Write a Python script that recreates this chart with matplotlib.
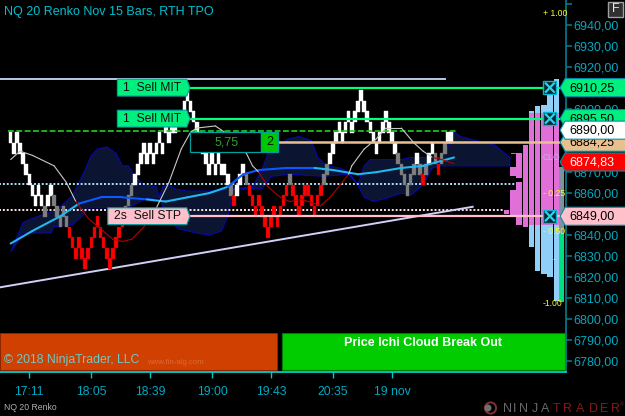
"""NQ 20 Renko chart with Ichimoku cloud, TPO profile and order flags."""
import numpy as np
import matplotlib
matplotlib.use("Agg")
import matplotlib.pyplot as plt
from matplotlib.collections import LineCollection
from matplotlib.patches import Circle, Polygon, Rectangle
from matplotlib.transforms import IdentityTransform

plt.rcParams["font.family"] = ["Liberation Sans", "DejaVu Sans"]

# renko bricks, one per bar: top price and colour code
brick_tops = [
    6889, 6884, 6889, 6884, 6879, 6874, 6869, 6864, 6859, 6864, 6859, 6854, 6859, 6864, 6859,
    6854, 6849, 6854, 6849, 6844, 6839, 6834, 6839, 6834, 6829, 6834, 6839, 6844, 6849, 6844,
    6839, 6834, 6829, 6834, 6839, 6844, 6849, 6854, 6859, 6864, 6869, 6874, 6879, 6884, 6879,
    6884, 6879, 6884, 6889, 6884, 6894, 6889, 6894, 6894, 6899, 6899, 6904, 6909, 6904, 6899,
    6894, 6889, 6884, 6879, 6874, 6879, 6874, 6879, 6874, 6874, 6869, 6864, 6859, 6864, 6869,
    6874, 6869, 6864, 6859, 6854, 6859, 6854, 6849, 6844, 6849, 6854, 6849, 6854, 6859, 6864,
    6869, 6864, 6859, 6854, 6859, 6864, 6864, 6859, 6854, 6859, 6864, 6869, 6874, 6879, 6884,
    6889, 6894, 6889, 6894, 6899, 6894, 6899, 6904, 6909, 6904, 6899, 6894, 6889, 6884, 6889,
    6894, 6899, 6894, 6889, 6884, 6879, 6874, 6869, 6864, 6869, 6874, 6879, 6874, 6869, 6874,
    6879, 6884, 6879, 6874, 6879, 6884, 6889, 6889,
]
brick_kinds = ("w" * 11 + "g" + "ww" + "g" * 5 + "r" * 18 + "ggg" + "w" * 31 + "g" + "r" + "www"
               + "g" + "r" * 13 + "g" + "r" * 10 + "gg" + "w" * 22 + "g" * 6 + "wgrgwwgrggww")
BRICK_HEIGHT = 5.2
BRICK_COLORS = {"w": "#ffffff", "g": "#808080", "r": "#ff0000"}
BRICK_EDGES = {"w": "#ffffff", "g": "#707070", "r": "#a80000"}

# ichimoku cloud edges
cloud_top_x = [0, 2, 4, 7, 15, 20, 22, 24, 26, 28, 31, 34, 36, 38, 40, 43, 47, 48, 49, 51, 53, 57, 64, 72,
               78, 81, 83, 86, 90, 93, 97, 99, 102, 106, 109, 112, 114, 116, 126, 129, 139, 141, 143,
               145, 150, 156, 161]
cloud_top = [6832, 6839, 6846, 6848, 6852, 6859, 6865, 6871, 6878, 6881, 6882, 6879, 6873, 6873, 6868,
             6864, 6863, 6858, 6863, 6864, 6862, 6861, 6861, 6862, 6863, 6871, 6879, 6883, 6886, 6887,
             6885, 6877, 6873, 6872, 6870, 6864, 6873, 6876, 6876, 6877, 6877, 6882, 6889, 6887, 6885,
             6883, 6877]
cloud_bot_x = [0, 4, 13, 14, 20, 23, 25, 29, 38, 43, 48, 50, 54, 60, 64, 68, 70, 71, 72, 81, 84, 90, 101,
               109, 112, 114, 117, 122, 126, 129, 133, 136, 139, 161]
cloud_bot = [6832, 6841, 6841, 6844, 6845, 6849, 6853, 6853, 6853, 6857, 6858, 6849, 6843, 6841, 6840,
             6842, 6849, 6856, 6862, 6862, 6868, 6869, 6868, 6869, 6864, 6858, 6856, 6858, 6860, 6859,
             6864, 6872, 6873, 6873]

# fast average, two tone
fast_x = [0, 7, 16, 22, 29, 36, 44, 50, 57, 64, 70, 75, 80, 89, 98, 104, 112, 118, 126, 133, 143]
fast_y = [6836, 6842, 6849, 6855, 6858, 6858, 6857, 6856, 6858, 6860, 6863, 6869, 6871, 6872, 6872,
          6871, 6869, 6870, 6872, 6873, 6877]
fast_tone = "cccbbbccccbbbbcccccc"

# slow average, thin
thin_x = [0, 3, 7, 14, 18, 21, 25, 29, 33, 36, 39, 43, 47, 51, 55, 58, 60, 66, 69, 76, 78, 80, 83, 87,
          90, 94, 100, 103, 109, 110, 114, 118, 121, 126, 130, 133, 136, 139, 143]
thin_y = [6876, 6880, 6878, 6873, 6865, 6856, 6848, 6843, 6838, 6837, 6838, 6844, 6853, 6865, 6881,
          6889, 6891, 6892, 6889, 6879, 6873, 6870, 6863, 6858, 6856, 6857, 6854, 6858, 6869, 6873,
          6881, 6886, 6891, 6891, 6884, 6880, 6877, 6876, 6874]
thin_tone = "w" * 5 + "r" * 7 + "w" * 9 + "r" * 7 + "w" * 8 + "rr"

trend_x = [-4, 149]
trend_y = [6815, 6853.5]
resistance_price = 6914.4
resistance_end = 140
green_dash_price = 6889.7
dotted_cyan_price = 6864.4
dotted_pink_price = 6852

# tpo profile columns
profile_x = [160, 162, 164, 166, 168, 170, 172, 174, 176]
profile_pieces = [
    [(6850, 6852)],
    [(6849.7, 6861.6), (6868, 6872.5)],
    [(6845, 6865.5), (6867, 6879)],
    [(6844, 6883)],
    [(6845, 6898)],
    [(6845, 6898)],
    [(6845, 6898)],
    [(6845, 6898)],
    [(6845, 6898)],
]
profile_blue_x = [168, 170, 172, 174, 176]
profile_blue_low = [6834.5, 6823, 6821.6, 6820, 6808.5]
profile_blue_high = [6899, 6901.6, 6902, 6908, 6914.5]
last_col_x = 177.5
last_col_grey = (6841, 6872.5)
last_col_green = (6808, 6841)

# order and price flags
sell_mit_1 = 6910.25
sell_mit_2 = 6895.50
last_price = 6890.00
avg_price = 6884.25
close_price = 6874.83
sell_stp = 6849.00

price_ticks = np.arange(6780, 6951, 10)
hidden_price_labels = [6950, 6910, 6890, 6880, 6850]
time_ticks = [6, 26, 45, 65, 84, 104, 123]
time_labels = ["17:11", "18:05", "18:39", "19:00", "19:43", "20:35", "19 nov"]

TEAL = "#00a8c0"
MIT_GREEN = "#00ff80"
PINK = "#ffc0cb"
TAN = "#e8c090"

W, H = 625, 416


def colored_line(ax, xs, ys, tones, palette, lw, zorder):
    pts = np.column_stack([xs, ys])
    segs = np.stack([pts[:-1], pts[1:]], axis=1)
    lc = LineCollection(segs, colors=[palette[t] for t in tones], linewidths=lw, zorder=zorder)
    lc.set_capstyle("round")
    ax.add_collection(lc)


def right_flag(ax, price, face, text, text_color="black", zorder=9):
    """Price flag that sits over the axis, pointing left."""
    half = 4.3
    pts = [(177.2, price), (178.8, price + half), (198.6, price + half),
           (198.6, price - half), (178.8, price - half)]
    ax.add_patch(Polygon(pts, closed=True, fc=face, ec="#008fa8", lw=0.8, clip_on=False, zorder=zorder))
    ax.text(180.3, price - 0.2, text, color=text_color, fontsize=9, va="center", ha="left",
            clip_on=False, zorder=zorder)


def order_tag(ax, left, price, face, text):
    half = 4.0
    pts = [(left, price + half), (56.8, price + half), (57.8, price),
           (56.8, price - half), (left, price - half)]
    ax.add_patch(Polygon(pts, closed=True, fc=face, ec="#00a0a0", lw=0.8, zorder=7))
    ax.text(left + 1.9, price - 0.1, text, color="#101010", fontsize=8.7, va="center", ha="left", zorder=8)


def x_button(ax, price):
    ax.add_patch(Rectangle((171.8, price - 3.1), 4.2, 6.2, fc="#002830", ec="#00b8d0", lw=1.0, zorder=11,
                           clip_on=False))
    ax.plot([172.6, 175.2], [price - 2.0, price + 2.0], color="#30d0e8", lw=1.6, zorder=12)
    ax.plot([172.6, 175.2], [price + 2.0, price - 2.0], color="#30d0e8", lw=1.6, zorder=12)


def px_text(fig, x, y, s, **kw):
    fig.text(x / W, 1 - y / H, s, **kw)


fig = plt.figure(figsize=(W / 100, H / 100), dpi=100, facecolor="black")
ax = fig.add_axes([0, (H - 372) / H, 566 / W, 372 / H], facecolor="black")
ax.set_xlim(-3.45, 179.1)
ax.set_ylim(6774.8, 6952)

# cloud
cloud_pts = list(zip(cloud_top_x, cloud_top)) + list(zip(cloud_bot_x[::-1], cloud_bot[::-1]))
ax.add_patch(Polygon(cloud_pts, closed=True, fc="#0b1430", ec="#0808b0", lw=0.8, zorder=1))

# horizontal levels
ax.plot([-4, 163], [dotted_cyan_price] * 2, color="#a8e4ff", lw=1.4, ls=(0, (1, 1)), zorder=2)
ax.plot([-4, 159], [dotted_pink_price] * 2, color="#ffe4e8", lw=1.4, ls=(0, (1, 1)), zorder=2)
ax.plot([-4, resistance_end], [resistance_price] * 2, color="#b8c8e8", lw=1.4, zorder=2)
ax.plot(trend_x, trend_y, color="#d0d0f8", lw=1.4, zorder=3)

# profile
for x, pieces in zip(profile_x, profile_pieces):
    for low, high in pieces:
        ax.bar(x, high - low, bottom=low, width=1.75, color="#e070d8", zorder=3)
for x, low, high in zip(profile_blue_x, profile_blue_low, profile_blue_high):
    ax.bar(x, high - low, bottom=low, width=1.75, color="#90d0f8", zorder=2)
ax.bar(last_col_x, last_col_grey[1] - last_col_grey[0], bottom=last_col_grey[0], width=1.6,
       color="#8090a0", zorder=3)
ax.bar(last_col_x, last_col_green[1] - last_col_green[0], bottom=last_col_green[0], width=1.6,
       color="#00e080", zorder=3)

# renko bricks
bar_index = np.arange(len(brick_tops))
tops = np.array(brick_tops, dtype=float)
ax.bar(bar_index, BRICK_HEIGHT, bottom=tops - BRICK_HEIGHT, width=1.15,
       color=[BRICK_COLORS[k] for k in brick_kinds],
       edgecolor=[BRICK_EDGES[k] for k in brick_kinds], linewidth=0.3, zorder=4)

ax.plot([-1, 144], [green_dash_price] * 2, color="#20d020", lw=1.2, ls=(0, (3.5, 1.5)), zorder=5)

# averages
colored_line(ax, fast_x, fast_y, fast_tone, {"c": "#20b8f0", "b": "#0c58ff"}, 1.5, 5)
colored_line(ax, thin_x, thin_y, thin_tone, {"w": "#c8c8c8", "r": "#b00000"}, 0.8, 5)

# lines from the working orders
ax.plot([57, 179], [sell_mit_1] * 2, color=MIT_GREEN, lw=1.6, zorder=6)
ax.plot([57, 179], [sell_mit_2] * 2, color=MIT_GREEN, lw=1.6, zorder=6)
ax.plot([86, 179], [avg_price] * 2, color=TAN, lw=1.8, zorder=6)
ax.plot([57, 179], [sell_stp] * 2, color=PINK, lw=1.6, zorder=6)

order_tag(ax, 34.4, sell_mit_1, "#00f080", "1  Sell MIT")
order_tag(ax, 34.4, sell_mit_2, "#00f080", "1  Sell MIT")
order_tag(ax, 31.3, sell_stp, PINK, "2s  Sell STP")

# position box
ax.add_patch(Rectangle((57.8, avg_price - 4.7), 23, 9.4, fc="#000000", ec="#00a0a0", lw=0.9, zorder=7))
ax.add_patch(Rectangle((80.8, avg_price - 4.7), 5.4, 9.4, fc="#00c800", ec="#00a0a0", lw=0.9, zorder=7))
ax.text(69.5, avg_price - 0.1, "5,75", color="#30a030", fontsize=9, ha="center", va="center", zorder=8)
ax.text(83.5, avg_price - 0.1, "2", color="black", fontsize=9, ha="center", va="center", zorder=8)

# bottom panels
ax.add_patch(Rectangle((-3.45, 6775.7), 89.4, 17.8, fc="#d04000", ec="#902800", lw=0.6, zorder=2))
ax.add_patch(Rectangle((87.5, 6775.7), 91.2, 17.8, fc="#00cc00", ec="#007a00", lw=0.8, zorder=2))
ax.text(133, 6788.6, "Price Ichi Cloud Break Out", color="white", fontsize=9, fontweight="bold",
        ha="center", va="center", zorder=3)
ax.text(-2.2, 6780.5, "\u00a9 2018 NinjaTrader, LLC", color="#70c8c8", fontsize=8.8, ha="left", va="center", zorder=3)
ax.text(44, 6779.5, "www.fin-alg.com", color="#dc6a38", fontsize=5.6, ha="left", va="center", zorder=3)

# flags on the price axis, later ones on top
right_flag(ax, sell_stp, PINK, "6849,00", zorder=9)
right_flag(ax, sell_mit_2, "#00f080", "6895,50", zorder=9)
right_flag(ax, avg_price, TAN, "6884,25", zorder=9.2)
right_flag(ax, last_price, "white", "6890,00", zorder=9.4)
right_flag(ax, sell_mit_1, "#00f080", "6910,25", zorder=9.6)
right_flag(ax, close_price, "#ff0000", "6874,83", "white", zorder=9.8)

x_button(ax, sell_mit_1)
x_button(ax, sell_mit_2)
x_button(ax, sell_stp)

# axes
for side in ("left", "top"):
    ax.spines[side].set_visible(False)
ax.spines["right"].set_color("#008090")
ax.spines["right"].set_linewidth(1.2)
ax.spines["bottom"].set_color("#00e0e0")
ax.spines["bottom"].set_linewidth(1.2)
ax.yaxis.tick_right()
ax.set_yticks(price_ticks)
ax.set_yticklabels(["" if v in hidden_price_labels else f"{v:.2f}".replace(".", ",") for v in price_ticks])
ax.tick_params(axis="y", colors=TEAL, length=4.3, width=1.1, labelsize=9, pad=0.8, color="#008090")
ax.set_xticks(time_ticks)
ax.set_xticklabels(time_labels)
ax.tick_params(axis="x", colors=TEAL, length=4, width=1, labelsize=8.8, pad=6, color="#00c8c8")

# text around the plot
px_text(fig, 4, 12, "NQ 20 Renko Nov 15 Bars, RTH TPO", color="#00c0d0", fontsize=9, va="center")
px_text(fig, 4, 408, "NQ 20 Renko", color="#b0b0b0", fontsize=6.2, va="center")

yellow = "#ffff20"
px_text(fig, 543, 14, "+ 1.00", color=yellow, fontsize=6.2, va="center")
px_text(fig, 543, 194, "- 0.25", color=yellow, fontsize=6.2, va="center")
px_text(fig, 543, 231, "- 0.50", color=yellow, fontsize=6.2, va="center")
px_text(fig, 543, 303, "-1.00", color=yellow, fontsize=6.2, va="center")
px_text(fig, 553, 260, "-", color=yellow, fontsize=6.2, va="center")
px_text(fig, 511, 154, "\u2013", color=yellow, fontsize=6.2, va="center")
px_text(fig, 543, 157, "CLO", color="#c0b0e0", fontsize=6.2, va="center")

# F button
fig.add_artist(Rectangle((608, H - 17), 15, 15, fc="#303030", ec="#a0a0a0", lw=1, transform=IdentityTransform()))
px_text(fig, 615.5, 9.5, "F", color="#e8e8e8", fontsize=9, ha="center", va="center")

# logo
fig.add_artist(Circle((490.5, H - 408), 5.6, fc="none", ec="#803030", lw=1.4, transform=IdentityTransform()))
fig.add_artist(Circle((488, H - 408), 3.5, fc="#707070", ec="none", transform=IdentityTransform()))
logo_letters = "NINJATRADER"
logo_x = [507, 515, 524, 535, 545, 557, 568, 580, 593, 604, 615]
for i, (ch, lx) in enumerate(zip(logo_letters, logo_x)):
    px_text(fig, lx, 408.5, ch, color="#686868" if i < 5 else "#8a1818",
            fontsize=9, ha="center", va="center")
px_text(fig, 620, 405, "\u00ae", color="#8a1818", fontsize=4, va="center")

fig.savefig("out.png", dpi=100, facecolor="black")
